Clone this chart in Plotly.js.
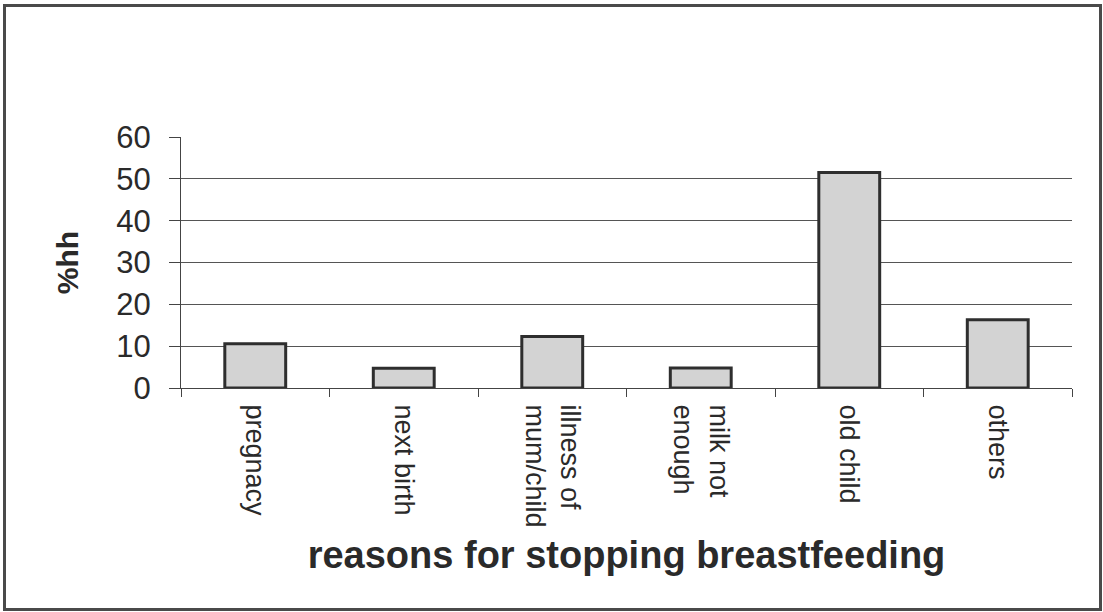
<!DOCTYPE html>
<html>
<head>
<meta charset="utf-8">
<script src="https://cdn.plot.ly/plotly-3.0.1.min.js"></script>
<style>
  html, body { margin: 0; padding: 0; background: #fff; }
  #chart { width: 1103px; height: 612px; position: absolute; left: 0; top: 0; }
  #frame { position: absolute; left: 3px; top: 4px; width: 1093px; height: 601px;
           border: 3px solid #4a4a4a; pointer-events: none; }
</style>
</head>
<body>
<div id="chart"></div>
<div id="frame"></div>
<script>
const categories = ["pregnacy", "next birth", "illness of<br>mum/child", "milk not<br>enough", "old child", "others"];
const percentHH = [10.6, 4.7, 12.3, 4.8, 51.5, 16.3];
const yTicks = [0, 10, 20, 30, 40, 50, 60];

const trace = {
  type: "bar",
  x: categories,
  y: percentHH,
  marker: { color: "#d3d3d3", line: { color: "#2e2e2e", width: 3 } },
  hoverinfo: "x+y"
};

const layout = {
  width: 1103,
  height: 612,
  margin: { l: 181, r: 31, t: 137, b: 224 },
  paper_bgcolor: "#ffffff",
  plot_bgcolor: "#ffffff",
  showlegend: false,
  bargap: 0.59,
  font: { family: "Liberation Sans, Arial, sans-serif", color: "#2a2a2a" },
  xaxis: {
    type: "category",
    tickangle: 90,
    tickson: "boundaries",
    ticks: "outside",
    ticklen: 8,
    tickcolor: "#444",
    tickwidth: 1,
    ticklabelstandoff: 10,
    showline: true,
    linecolor: "#444",
    linewidth: 1,
    showgrid: false,
    tickfont: { size: 27, color: "#2a2a2a" },
    title: { text: "<b>reasons for stopping breastfeeding</b>", font: { size: 38, color: "#2a2a2a" }, standoff: 14 }
  },
  yaxis: {
    range: [0, 60],
    tickvals: yTicks,
    ticktext: yTicks.map(String),
    ticks: "outside",
    ticklen: 11,
    tickcolor: "#444",
    tickwidth: 1,
    ticklabelstandoff: 12,
    showline: true,
    linecolor: "#444",
    linewidth: 1,
    showgrid: true,
    gridcolor: "#555",
    gridwidth: 1,
    zeroline: false,
    tickfont: { size: 31, color: "#2a2a2a" },
    title: { text: "<b>%hh</b>", font: { size: 30, color: "#2a2a2a" }, standoff: 28 }
  }
};

Plotly.newPlot("chart", [trace], layout, { staticPlot: true, displayModeBar: false });
</script>
</body>
</html>
